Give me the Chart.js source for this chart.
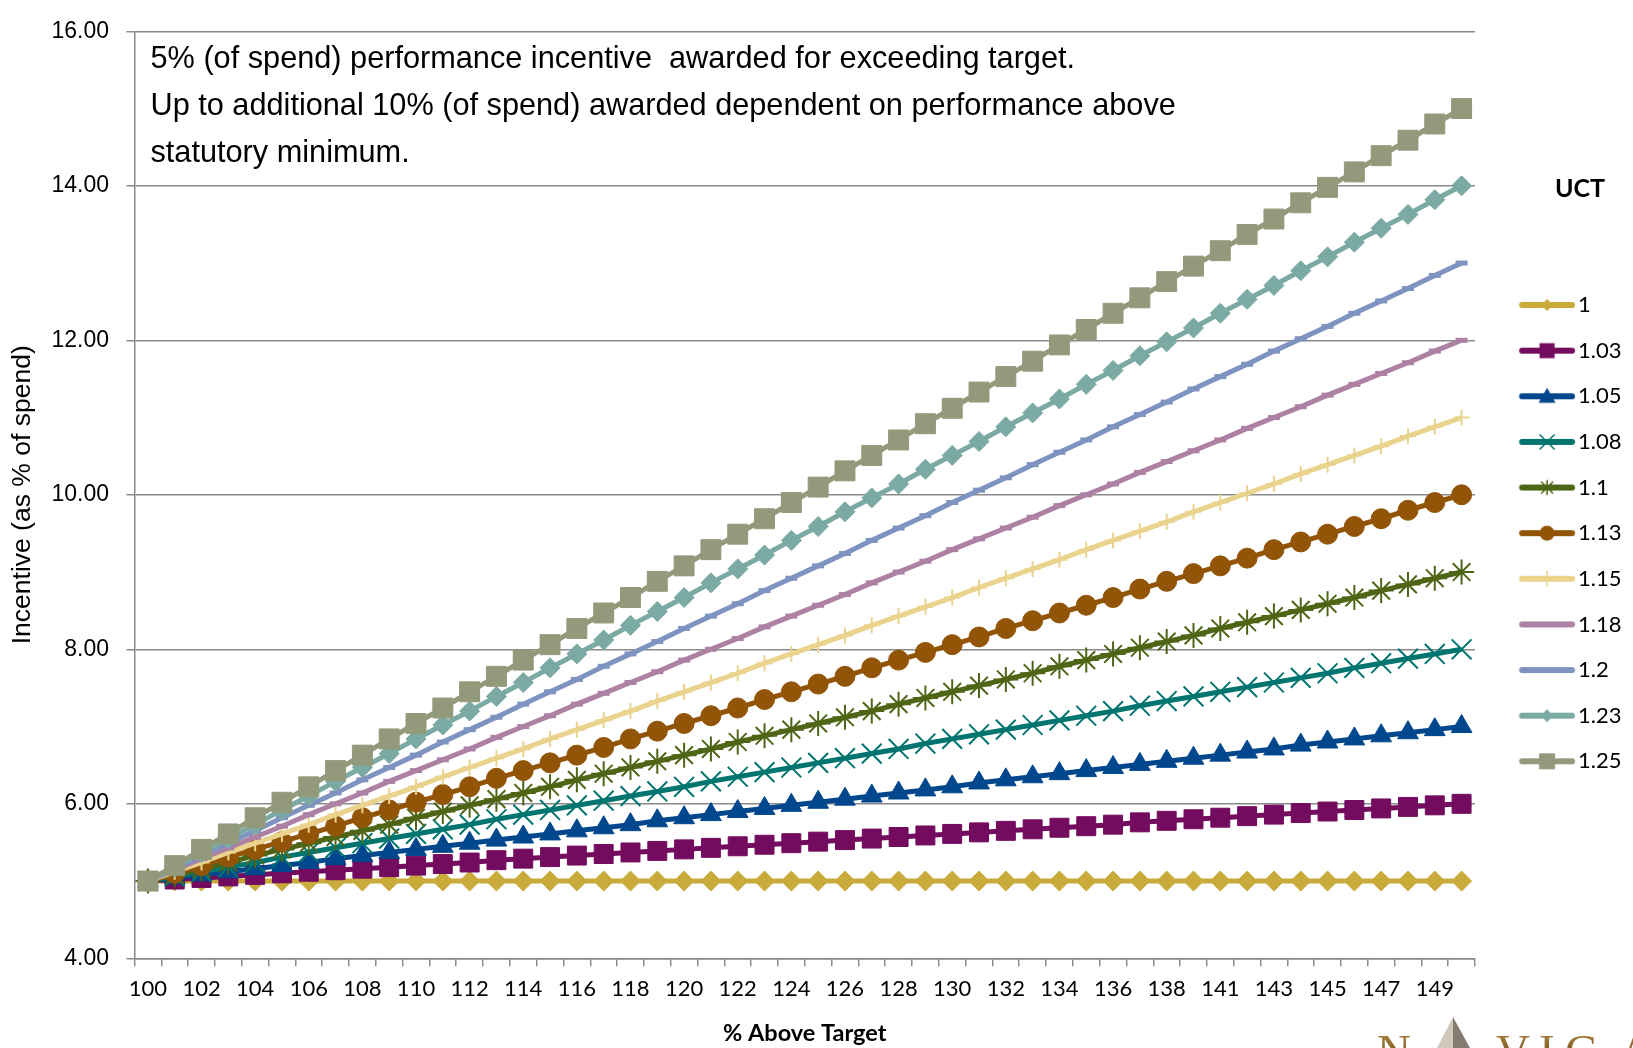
<!DOCTYPE html>
<html>
<head>
<meta charset="utf-8">
<title>Incentive by UCT</title>
<script src="https://cdn.jsdelivr.net/npm/chart.js"></script>
<style>
  html, body { margin: 0; padding: 0; background: #ffffff; }
  #wrap { width: 1633px; height: 1048px; position: relative; overflow: hidden; }
  canvas { display: block; }
</style>
</head>
<body>
<div id="wrap"><canvas id="c" width="1633" height="1048"></canvas></div>
<script>
// Category axis: % above target (every other label is shown)
const xLabels = [
  '100','101','102','103','104','105','106','107','108','109',
  '110','111','112','113','114','115','116','117','118','119',
  '120','121','122','123','124','125','126','127','128','129',
  '130','131','132','133','134','135','136','137','138','140',
  '141','142','143','144','145','146','147','148','149','150'
];

const yTickLabels = ['4.00','6.00','8.00','10.00','12.00','14.00','16.00'];

const seriesNames = ['1','1.03','1.05','1.08','1.1','1.13','1.15','1.18','1.2','1.23','1.25'];

const uct100 = [5.00,5.00,5.00,5.00,5.00,5.00,5.00,5.00,5.00,5.00, 5.00,5.00,5.00,5.00,5.00,5.00,5.00,5.00,5.00,5.00,
  5.00,5.00,5.00,5.00,5.00,5.00,5.00,5.00,5.00,5.00, 5.00,5.00,5.00,5.00,5.00,5.00,5.00,5.00,5.00,5.00,
  5.00,5.00,5.00,5.00,5.00,5.00,5.00,5.00,5.00,5.00];
const uct103 = [5.00,5.02,5.04,5.06,5.08,5.10,5.12,5.14,5.16,5.18, 5.20,5.22,5.24,5.27,5.29,5.31,5.33,5.35,5.37,5.39,
  5.41,5.43,5.45,5.47,5.49,5.51,5.53,5.55,5.57,5.59, 5.61,5.63,5.65,5.67,5.69,5.71,5.73,5.76,5.78,5.80,
  5.82,5.84,5.86,5.88,5.90,5.92,5.94,5.96,5.98,6.00];
const uct105 = [5.00,5.04,5.08,5.12,5.16,5.20,5.24,5.29,5.33,5.37, 5.41,5.45,5.49,5.53,5.57,5.61,5.65,5.69,5.73,5.78,
  5.82,5.86,5.90,5.94,5.98,6.02,6.06,6.10,6.14,6.18, 6.22,6.27,6.31,6.35,6.39,6.43,6.47,6.51,6.55,6.59,
  6.63,6.67,6.71,6.76,6.80,6.84,6.88,6.92,6.96,7.00];
const uct108 = [5.00,5.06,5.12,5.18,5.24,5.31,5.37,5.43,5.49,5.55, 5.61,5.67,5.73,5.80,5.86,5.92,5.98,6.04,6.10,6.16,
  6.22,6.29,6.35,6.41,6.47,6.53,6.59,6.65,6.71,6.78, 6.84,6.90,6.96,7.02,7.08,7.14,7.20,7.27,7.33,7.39,
  7.45,7.51,7.57,7.63,7.69,7.76,7.82,7.88,7.94,8.00];
const uct110 = [5.00,5.08,5.16,5.24,5.33,5.41,5.49,5.57,5.65,5.73, 5.82,5.90,5.98,6.06,6.14,6.22,6.31,6.39,6.47,6.55,
  6.63,6.71,6.80,6.88,6.96,7.04,7.12,7.20,7.29,7.37, 7.45,7.53,7.61,7.69,7.78,7.86,7.94,8.02,8.10,8.18,
  8.27,8.35,8.43,8.51,8.59,8.67,8.76,8.84,8.92,9.00];
const uct113 = [5.00,5.10,5.20,5.31,5.41,5.51,5.61,5.71,5.82,5.92, 6.02,6.12,6.22,6.33,6.43,6.53,6.63,6.73,6.84,6.94,
  7.04,7.14,7.24,7.35,7.45,7.55,7.65,7.76,7.86,7.96, 8.06,8.16,8.27,8.37,8.47,8.57,8.67,8.78,8.88,8.98,
  9.08,9.18,9.29,9.39,9.49,9.59,9.69,9.80,9.90,10.00];
const uct115 = [5.00,5.12,5.24,5.37,5.49,5.61,5.73,5.86,5.98,6.10, 6.22,6.35,6.47,6.59,6.71,6.84,6.96,7.08,7.20,7.33,
  7.45,7.57,7.69,7.82,7.94,8.06,8.18,8.31,8.43,8.55, 8.67,8.80,8.92,9.04,9.16,9.29,9.41,9.53,9.65,9.78,
  9.90,10.02,10.14,10.27,10.39,10.51,10.63,10.76,10.88,11.00];
const uct118 = [5.00,5.14,5.29,5.43,5.57,5.71,5.86,6.00,6.14,6.29, 6.43,6.57,6.71,6.86,7.00,7.14,7.29,7.43,7.57,7.71,
  7.86,8.00,8.14,8.29,8.43,8.57,8.71,8.86,9.00,9.14, 9.29,9.43,9.57,9.71,9.86,10.00,10.14,10.29,10.43,10.57,
  10.71,10.86,11.00,11.14,11.29,11.43,11.57,11.71,11.86,12.00];
const uct120 = [5.00,5.16,5.33,5.49,5.65,5.82,5.98,6.14,6.31,6.47, 6.63,6.80,6.96,7.12,7.29,7.45,7.61,7.78,7.94,8.10,
  8.27,8.43,8.59,8.76,8.92,9.08,9.24,9.41,9.57,9.73, 9.90,10.06,10.22,10.39,10.55,10.71,10.88,11.04,11.20,11.37,
  11.53,11.69,11.86,12.02,12.18,12.35,12.51,12.67,12.84,13.00];
const uct123 = [5.00,5.18,5.37,5.55,5.73,5.92,6.10,6.29,6.47,6.65, 6.84,7.02,7.20,7.39,7.57,7.76,7.94,8.12,8.31,8.49,
  8.67,8.86,9.04,9.22,9.41,9.59,9.78,9.96,10.14,10.33, 10.51,10.69,10.88,11.06,11.24,11.43,11.61,11.80,11.98,12.16,
  12.35,12.53,12.71,12.90,13.08,13.27,13.45,13.63,13.82,14.00];
const uct125 = [5.00,5.20,5.41,5.61,5.82,6.02,6.22,6.43,6.63,6.84, 7.04,7.24,7.45,7.65,7.86,8.06,8.27,8.47,8.67,8.88,
  9.08,9.29,9.49,9.69,9.90,10.10,10.31,10.51,10.71,10.92, 11.12,11.33,11.53,11.73,11.94,12.14,12.35,12.55,12.76,12.96,
  13.16,13.37,13.57,13.78,13.98,14.18,14.39,14.59,14.80,15.00];

const legendTitle = 'UCT';
const noteLines = [
  '5% (of spend) performance incentive  awarded for exceeding target.',
  'Up to additional 10% (of spend) awarded dependent on performance above',
  'statutory minimum.'
];

// Per-series look: colour, chart marker, legend marker
const looks = [
  { color: '#C9AB3B', style: 'rectRot',  r: 10,   bw: 1, mark: 'diamond',  ms: 6 },
  { color: '#730B5F', style: 'rect',     r: 13.4, bw: 1, mark: 'square',   ms: 7.5 },
  { color: '#00478D', style: 'triangle', r: 12,   bw: 1, mark: 'triangle', ms: 8.5 },
  { color: '#00756F', style: 'crossRot', r: 14,   bw: 2, mark: 'x',        ms: 7.5 },
  { color: '#4F6516', style: 'star',     r: 12.5, bw: 2, mark: 'asterisk', ms: 7.5 },
  { color: '#925406', style: 'circle',   r: 10,   bw: 1, mark: 'circle',   ms: 7.5 },
  { color: '#EAD38D', style: 'cross',    r: 8,    bw: 2, mark: 'plus',     ms: 8 },
  { color: '#AD81A4', style: 'line',     r: 6,    bw: 5, mark: 'none',     ms: 0 },
  { color: '#7F93C1', style: 'line',     r: 6,    bw: 5, mark: 'none',     ms: 0 },
  { color: '#7BA9A3', style: 'rectRot',  r: 10,   bw: 1, mark: 'diamond',  ms: 6.5 },
  { color: '#939A7B', style: 'rect',     r: 14.1, bw: 1, mark: 'square',   ms: 8 }
];
const seriesData = [uct100, uct103, uct105, uct108, uct110, uct113, uct115, uct118, uct120, uct123, uct125];

// Legend swatch: a short thick line with the series marker on it
const SW_W = 90, SW_H = 26;
function makeSwatch(look) {
  const cv = document.createElement('canvas');
  cv.width = SW_W; cv.height = SW_H;
  const g = cv.getContext('2d');
  const cy = SW_H / 2, cx = 59.2, s = look.ms;
  g.strokeStyle = look.color; g.fillStyle = look.color;
  g.lineCap = 'round'; g.lineWidth = 6;
  g.beginPath(); g.moveTo(34.2, cy); g.lineTo(84.2, cy); g.stroke();
  g.lineCap = 'butt';
  g.beginPath();
  switch (look.mark) {
    case 'diamond':
      g.moveTo(cx, cy - s); g.lineTo(cx + s, cy); g.lineTo(cx, cy + s); g.lineTo(cx - s, cy); g.closePath(); g.fill(); break;
    case 'square':
      g.rect(cx - s, cy - s, 2 * s, 2 * s); g.fill(); break;
    case 'triangle':
      g.moveTo(cx, cy - s); g.lineTo(cx + s, cy + s * 0.75); g.lineTo(cx - s, cy + s * 0.75); g.closePath(); g.fill(); break;
    case 'circle':
      g.arc(cx, cy, s, 0, Math.PI * 2); g.fill(); break;
    case 'x':
      g.lineWidth = 1.6;
      g.moveTo(cx - s, cy - s); g.lineTo(cx + s, cy + s); g.moveTo(cx - s, cy + s); g.lineTo(cx + s, cy - s); g.stroke(); break;
    case 'asterisk':
      g.lineWidth = 1.6;
      g.moveTo(cx - s * 0.8, cy - s * 0.8); g.lineTo(cx + s * 0.8, cy + s * 0.8);
      g.moveTo(cx - s * 0.8, cy + s * 0.8); g.lineTo(cx + s * 0.8, cy - s * 0.8);
      g.moveTo(cx, cy - s); g.lineTo(cx, cy + s); g.stroke(); break;
    case 'plus':
      g.lineWidth = 1.6;
      g.moveTo(cx, cy - s); g.lineTo(cx, cy + s); g.stroke(); break;
    default: break;
  }
  return cv;
}
const swatches = looks.map(makeSwatch);

const datasets = seriesNames.map((name, i) => {
  const lk = looks[i];
  const filled = lk.bw === 1;
  return {
    label: name,
    data: seriesData[i],
    borderColor: lk.color,
    backgroundColor: lk.color,
    borderWidth: 5,
    tension: 0,
    pointStyle: lk.style,
    pointRadius: lk.r,
    pointHoverRadius: lk.r,
    pointBorderWidth: lk.bw,
    pointBorderColor: lk.color,
    pointBackgroundColor: filled ? lk.color : 'transparent',
    order: seriesNames.length - i,
    clip: false
  };
});

const GRID = '#8a8a8a';
const CANVAS_W = 1633, CANVAS_H = 1048;
const PLOT_LEFT = 134.5, PLOT_RIGHT = 1475, PLOT_TOP = 15.3, PLOT_BOTTOM = 958.3;

// Legend geometry
const LEG_FONT = 22, LEG_PAD = 23.63, LEG_BOX = 68.37;
const meas = document.createElement('canvas').getContext('2d');
meas.font = LEG_FONT + 'px Lato';
const widestLabel = Math.max(...seriesNames.map(n => meas.measureText(n).width));
const legendWidth = LEG_PAD + LEG_BOX + LEG_FONT / 2 + widestLabel + 10;
const rightPad = CANVAS_W - PLOT_RIGHT - legendWidth;

// Free text block, legend heading and corner mark
const notePlugin = {
  id: 'noteAndMark',
  afterDraw(chart) {
    const c = chart.ctx;
    c.save();
    c.fillStyle = '#000';
    c.font = '30.7px "Liberation Sans", Arial, sans-serif';
    c.textBaseline = 'alphabetic';
    c.textAlign = 'left';
    noteLines.forEach((t, k) => c.fillText(t, 150.5, 68.3 + k * 47));

    c.font = 'bold 25px Lato';
    c.textAlign = 'right';
    c.textBaseline = 'middle';
    c.fillText(legendTitle, 1605, 189);

    // corner mark (lettering cut by the lower edge)
    c.textAlign = 'left';
    c.textBaseline = 'alphabetic';
    const grad = c.createLinearGradient(0, 1030, 0, 1048);
    grad.addColorStop(0, '#b08a45');
    grad.addColorStop(1, '#8a6427');
    c.fillStyle = grad;
    c.font = '47px "Liberation Serif", serif';
    [['N', 1377], ['V', 1496], ['I', 1539], ['G', 1565], ['A', 1619]].forEach(([ch, x]) => c.fillText(ch, x, 1067));
    // compass spike
    c.beginPath(); c.moveTo(1453, 1017); c.lineTo(1453, 1048); c.lineTo(1437, 1048); c.closePath();
    c.fillStyle = '#cfc8bd'; c.fill();
    c.beginPath(); c.moveTo(1453, 1017); c.lineTo(1470, 1048); c.lineTo(1453, 1048); c.closePath();
    c.fillStyle = '#847c70'; c.fill();
    c.restore();
  }
};

new Chart(document.getElementById('c'), {
  type: 'line',
  data: { labels: xLabels, datasets },
  options: {
    responsive: false,
    animation: false,
    devicePixelRatio: 1,
    layout: { padding: { left: 0, right: rightPad, top: PLOT_TOP, bottom: 0 } },
    plugins: {
      tooltip: { enabled: false },
      legend: {
        position: 'right',
        align: 'start',
        title: {
          display: true,
          text: ' ',
          font: { family: 'Lato', size: 25, weight: 'bold', lineHeight: 1.2 },
          padding: { top: 161.2, bottom: 63.87 }
        },
        labels: {
          usePointStyle: true,
          pointStyleWidth: LEG_BOX,
          padding: LEG_PAD,
          color: '#000',
          font: { family: 'Lato', size: LEG_FONT },
          generateLabels: (chart) => chart.data.datasets.map((ds, i) => ({
            text: ds.label,
            datasetIndex: i,
            pointStyle: swatches[i],
            fillStyle: 'transparent',
            strokeStyle: 'transparent',
            lineWidth: 0,
            hidden: false,
            fontColor: '#000'
          }))
        }
      }
    },
    scales: {
      x: {
        type: 'category',
        offset: true,
        afterFit: (s) => { s.height = CANVAS_H - PLOT_BOTTOM; },
        grid: { display: true, drawOnChartArea: false, drawTicks: true, tickLength: 8, offset: true, color: GRID, lineWidth: 1.5 },
        border: { display: true, color: GRID, width: 1.5 },
        ticks: {
          autoSkip: false, maxRotation: 0, minRotation: 0, padding: 9.5,
          color: '#000',
          font: { family: 'Lato', size: 22 },
          callback: (v, i) => (i % 2 === 0 ? xLabels[i] : '')
        },
        title: {
          display: true, text: '% Above Target', color: '#000',
          font: { family: 'Lato', size: 23.5, weight: 'bold', lineHeight: 1.2 },
          padding: { top: 0, bottom: 0 }
        }
      },
      y: {
        min: 4, max: 16,
        afterFit: (s) => { s.width = PLOT_LEFT; },
        grid: { color: GRID, lineWidth: 1.5, drawTicks: true, tickLength: 8 },
        border: { display: true, color: GRID, width: 1.5 },
        ticks: {
          stepSize: 2, padding: 17.5, color: '#000',
          font: { family: '"Liberation Sans", Arial', size: 23 },
          callback: (v, i) => yTickLabels[i]
        },
        title: {
          display: true, text: 'Incentive (as % of spend)', color: '#000',
          font: { family: '"Liberation Sans", Arial', size: 26.5, lineHeight: 1.2 },
          padding: { top: 7.2, bottom: 0 }
        }
      }
    }
  },
  plugins: [notePlugin]
});
</script>
</body>
</html>
